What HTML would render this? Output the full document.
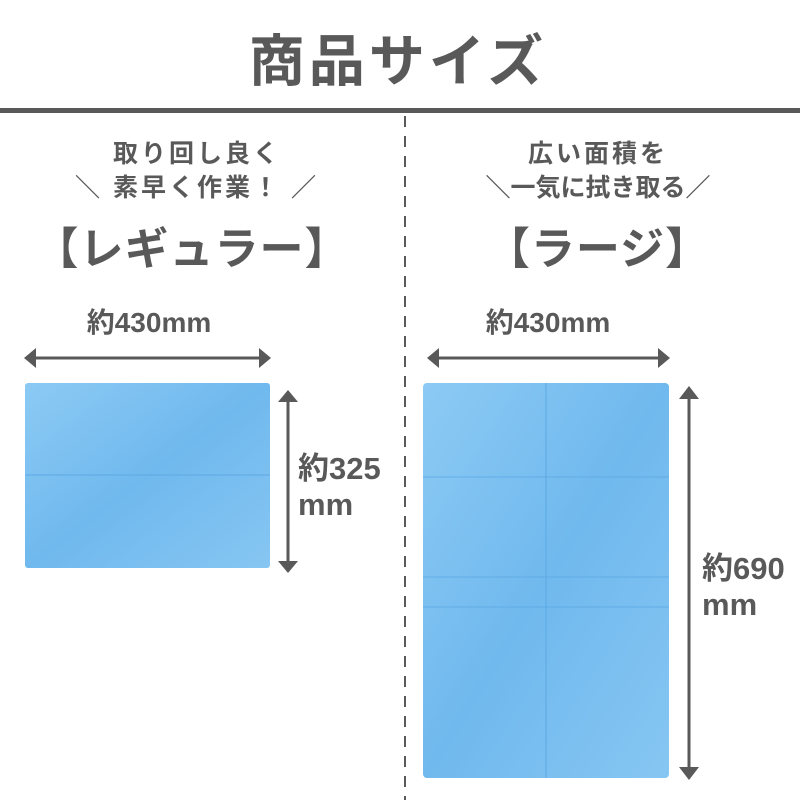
<!DOCTYPE html>
<html><head><meta charset="utf-8"><style>
html,body{margin:0;padding:0;background:#fff;}
svg{display:block}
text{font-family:"Liberation Sans","Noto Sans CJK JP",sans-serif;fill:#595959;font-weight:bold;}
</style></head><body>
<svg width="800" height="800" viewBox="0 0 800 800" xmlns="http://www.w3.org/2000/svg">
<defs>
<linearGradient id="g1" x1="0" y1="0" x2="1" y2="1">
<stop offset="0" stop-color="#8ccaf4"/><stop offset="0.5" stop-color="#70b9ee"/><stop offset="1" stop-color="#86c6f2"/>
</linearGradient>
</defs>
<text x="398" y="81" font-size="56" text-anchor="middle" letter-spacing="4">商品サイズ</text>
<rect x="0" y="108" width="800" height="5" fill="#595959"/>
<line x1="405" y1="116" x2="405" y2="800" stroke="#595959" stroke-width="2" stroke-dasharray="11,9"/>

<text x="197" y="162" font-size="25" text-anchor="middle" letter-spacing="3">取り回し良く</text>
<text x="197" y="196" font-size="25" text-anchor="middle" letter-spacing="3">＼ 素早く作業！ ／</text>
<text x="192" y="264" font-size="44" text-anchor="middle" letter-spacing="1">【レギュラー】</text>

<text x="598" y="162" font-size="25" text-anchor="middle" letter-spacing="3">広い面積を</text>
<text x="598" y="196" font-size="25" text-anchor="middle" letter-spacing="0">＼一気に拭き取る／</text>
<text x="598" y="264" font-size="44" text-anchor="middle" letter-spacing="1">【ラージ】</text>

<!-- left -->
<text x="149" y="332" font-size="28" text-anchor="middle" font-weight="normal">約430mm</text>
<line x1="32" y1="358" x2="262" y2="358" stroke="#595959" stroke-width="3"/>
<polygon points="24,358 36,348 36,368" fill="#595959"/>
<polygon points="271,358 259,348 259,368" fill="#595959"/>
<rect x="25" y="383" width="245" height="185" rx="3" fill="url(#g1)"/>
<line x1="25" y1="475" x2="270" y2="475" stroke="#5aa8e4" stroke-width="1.5" opacity="0.6"/>
<line x1="288" y1="398" x2="288" y2="565" stroke="#595959" stroke-width="3"/>
<polygon points="288,390 278,402 298,402" fill="#595959"/>
<polygon points="288,573 278,561 298,561" fill="#595959"/>
<text x="298" y="479" font-size="31" font-weight="normal">約325</text>
<text x="298" y="515" font-size="31" font-weight="normal">mm</text>

<!-- right -->
<text x="548" y="332" font-size="28" text-anchor="middle" font-weight="normal">約430mm</text>
<line x1="435" y1="358" x2="662" y2="358" stroke="#595959" stroke-width="3"/>
<polygon points="427,358 439,348 439,368" fill="#595959"/>
<polygon points="670,358 658,348 658,368" fill="#595959"/>
<rect x="423" y="383" width="246" height="395" rx="4" fill="url(#g1)"/>
<line x1="546" y1="383" x2="546" y2="778" stroke="#5aa8e4" stroke-width="1.5" opacity="0.6"/>
<line x1="423" y1="477" x2="669" y2="477" stroke="#5aa8e4" stroke-width="1.5" opacity="0.5"/>
<line x1="423" y1="577" x2="669" y2="577" stroke="#5aa8e4" stroke-width="1.5" opacity="0.5"/>
<line x1="423" y1="607" x2="669" y2="607" stroke="#5aa8e4" stroke-width="1.5" opacity="0.5"/>
<line x1="689" y1="395" x2="689" y2="770" stroke="#595959" stroke-width="3"/>
<polygon points="689,386 679,399 699,399" fill="#595959"/>
<polygon points="689,780 679,767 699,767" fill="#595959"/>
<text x="702" y="579" font-size="31" font-weight="normal">約690</text>
<text x="702" y="615" font-size="31" font-weight="normal">mm</text>
</svg>
</body></html>
